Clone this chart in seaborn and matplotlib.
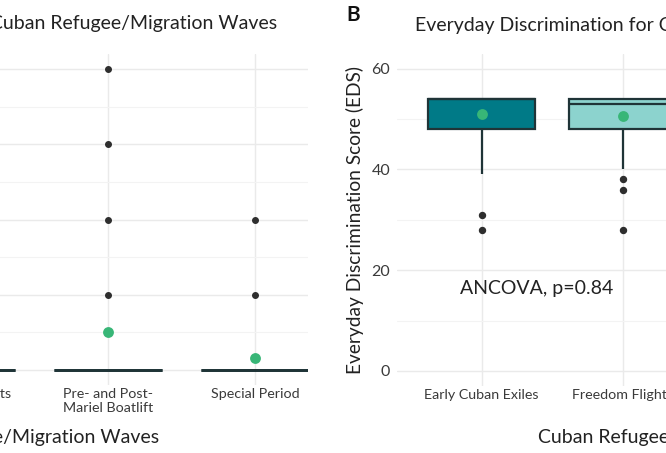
import numpy as np
import pandas as pd
import matplotlib
matplotlib.use("Agg")
import matplotlib.pyplot as plt
import seaborn as sns

# ---------------- data ----------------
waves = ["Early Cuban Exiles", "Freedom Flights",
         "Pre- and Post-\nMariel Boatlift", "Special Period"]

# Panel A: raw observations (counts) per wave
a_early = [0] * 18 + [1, 2]
a_freedom = [0] * 18 + [1, 2, 3]
a_mariel = [0] * 16 + [1, 2, 3, 4]
a_special = [0] * 17 + [1, 2]
a_means = [0.10, 0.14, 0.50, 0.16]

# Panel B: Everyday Discrimination Score (EDS) observations per wave
b_early = [28, 31, 39, 48, 48, 48, 54, 54, 54, 54, 54, 54, 54]
b_freedom = [28, 36, 38, 40, 48, 48, 50, 52, 53, 54, 54, 54, 54, 54, 54, 54, 54]
b_mariel = [30, 42, 46, 48, 50, 52, 54, 54, 54]
b_special = [33, 44, 47, 49, 51, 53, 54, 54, 54]
b_means = [51.0, 50.5, 50.0, 50.0]

box_colors = ["#007A87", "#8CD3CE", "#C9ECE8", "#EEF8F7"]
mean_color = "#38B677"
edge_color = "#1F3437"
dot_color = "#2E2E2E"
grid_major = "#EAEAEA"
grid_minor = "#F3F3F3"


def long_df(lists):
    rows = []
    for w, vals in zip(waves, lists):
        for v in vals:
            rows.append((w, v))
    return pd.DataFrame(rows, columns=["wave", "value"])


dfA = long_df([a_early, a_freedom, a_mariel, a_special])
dfB = long_df([b_early, b_freedom, b_mariel, b_special])
mA = pd.DataFrame({"wave": waves, "value": a_means})
mB = pd.DataFrame({"wave": waves, "value": b_means})

sns.set_theme(style="white")
plt.rcParams["font.family"] = ["Lato", "DejaVu Sans"]

W, H = 666, 453
fig = plt.figure(figsize=(W / 100, H / 100), dpi=100)


def px_axes(x0, x1, y0, y1):
    return fig.add_axes([x0 / W, 1 - y1 / H, (x1 - x0) / W, (y1 - y0) / H])


# ---------------- panel A ----------------
axA = px_axes(-239, 308, 54, 385)
sns.boxplot(data=dfA, x="wave", y="value", hue="wave", order=waves,
            hue_order=waves, palette=box_colors, saturation=1, legend=False,
            width=0.735, linewidth=2.0, linecolor=edge_color, fliersize=4.0,
            showcaps=False,
            flierprops=dict(marker="o", markerfacecolor=dot_color,
                            markeredgecolor=dot_color),
            ax=axA)
sns.stripplot(data=mA, x="wave", y="value", order=waves, jitter=False,
              color=mean_color, size=7.8, linewidth=0, ax=axA, zorder=5)
axA.set_xlim(-0.36, 3.36)
axA.set_ylim(-0.2, 4.2)
axA.set_yticks([0, 1, 2, 3, 4])
axA.set_yticks([0.5, 1.5, 2.5, 3.5], minor=True)

# ---------------- panel B ----------------
axB = px_axes(397, 989, 53.5, 386)
sns.boxplot(data=dfB, x="wave", y="value", hue="wave", order=waves,
            hue_order=waves, palette=box_colors, saturation=1, legend=False,
            width=0.76, linewidth=1.6, linecolor=edge_color, fliersize=4.3,
            showcaps=False,
            flierprops=dict(marker="o", markerfacecolor=dot_color,
                            markeredgecolor=dot_color),
            ax=axB)
sns.stripplot(data=mB, x="wave", y="value", order=waves, jitter=False,
              color=mean_color, size=7.8, linewidth=0, ax=axB, zorder=5)
axB.set_xlim(-0.6, 3.6)
axB.set_ylim(-3, 63)
axB.set_yticks([0, 20, 40, 60])
axB.set_yticks([10, 30, 50], minor=True)
axB.text(0.39, 16.4, "ANCOVA, p=0.84", ha="center", va="center",
         fontsize=14, color="#222222")

for ax in (axA, axB):
    ax.set_axisbelow(True)
    ax.grid(which="major", color=grid_major, linewidth=1.0)
    ax.grid(which="minor", axis="y", color=grid_minor, linewidth=0.8)
    for s in ax.spines.values():
        s.set_visible(False)
    ax.tick_params(which="both", length=0)
    ax.tick_params(axis="x", labelsize=10.3, labelcolor="#3A3A3A", pad=2)
    ax.tick_params(axis="y", labelsize=11.5, labelcolor="#3A3A3A", pad=5)
    ax.set_xlabel("")
    ax.set_ylabel("")

axB.set_ylabel("Everyday Discrimination Score (EDS)", fontsize=13.8,
               color="#222222", labelpad=5)

# titles / labels
fig.text(277 / W, 1 - 23 / H, "Cuban Refugee/Migration Waves", ha="right",
         va="center", fontsize=14, color="#222222")
fig.text(415 / W, 1 - 25 / H,
         "Everyday Discrimination for Cuban Refugee/Migration Waves",
         ha="left", va="center", fontsize=14, color="#222222")
fig.text(346 / W, 1 - 15 / H, "B", ha="left", va="center", fontsize=15,
         fontweight="bold", color="#111111")
fig.text(159 / W, 1 - 438 / H, "Cuban Refugee/Migration Waves", ha="right",
         va="center", fontsize=14, color="#222222")
fig.text(538 / W, 1 - 438 / H, "Cuban Refugee/Migration Waves", ha="left",
         va="center", fontsize=14, color="#222222")

fig.savefig("out.png", dpi=100)
